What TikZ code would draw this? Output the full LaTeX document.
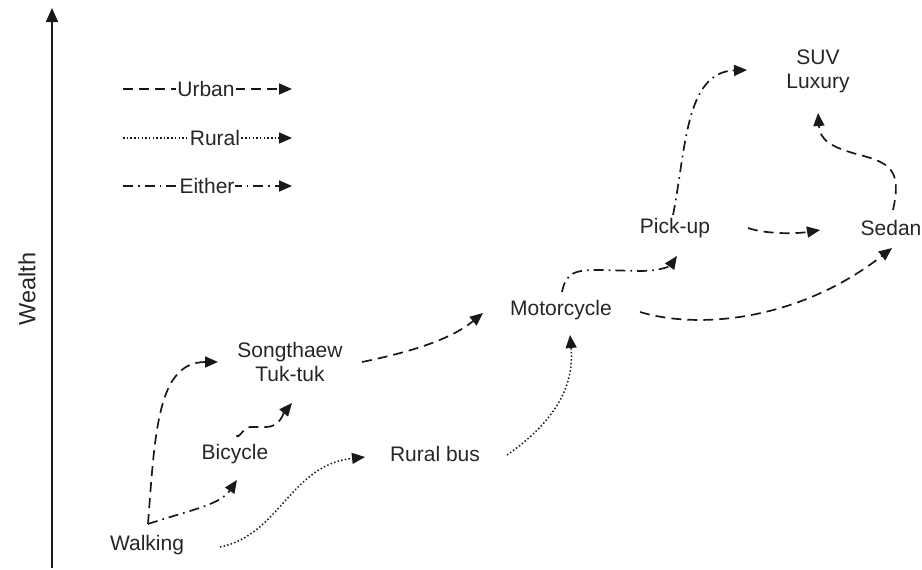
\documentclass[tikz,border=0pt]{standalone}
\usepackage{fontspec}
\setmainfont{Liberation Sans}
\usetikzlibrary{arrows.meta}
\begin{document}
\begin{tikzpicture}[x=1pt,y=-1pt,
  lbl/.style={font=\fontsize{21}{24}\selectfont, align=center, text=black!85, inner sep=1pt},
  conn/.style={line width=1.7pt, black!90, -{Triangle[length=13pt,width=11pt]}},
  urban/.style={conn, dash pattern=on 10pt off 6pt},
  rural/.style={conn, line width=1.5pt, dash pattern=on 1.5pt off 2.2pt},
  either/.style={conn, dash pattern=on 10pt off 5pt on 1.7pt off 5pt},
]
\useasboundingbox (0,0) rectangle (922,570);

% wealth axis
\coordinate (axisbot) at (52,568);
\coordinate (axistop) at (52,8);
\draw[line width=1.7pt, black!90, -{Triangle[length=14pt,width=12pt]}] (axisbot) -- (axistop);
\node[lbl, rotate=90, font=\fontsize{23.5}{26}\selectfont] (wealth) at (27,289) {Wealth};

% legend
\coordinate (u0) at (123,89);  \coordinate (u1) at (292,89);
\coordinate (r0) at (123,138); \coordinate (r1) at (292,138);
\coordinate (e0) at (123,186); \coordinate (e1) at (292,186);
\draw[urban]  (u0) -- (u1);
\draw[rural]  (r0) -- (r1);
\draw[either] (e0) -- (e1);
\node[lbl, fill=white] (lurban)  at (206,89)  {Urban};
\node[lbl, fill=white] (lrural)  at (215,138) {Rural};
\node[lbl, fill=white] (leither) at (207,186) {Either};

% modes of transport
\node[lbl] (walk)  at (147,545) {Walking};
\node[lbl] (bike)  at (235,454) {Bicycle};
\node[lbl] (song)  at (290,362) {Songthaew\\Tuk-tuk};
\node[lbl] (bus)   at (435,454) {Rural bus};
\node[lbl] (moto)  at (561,310) {Motorcycle};
\node[lbl] (pick)  at (675,228) {Pick-up};
\node[lbl] (sedan) at (891,228) {Sedan};
\node[lbl] (suv)   at (818,71)  {SUV\\Luxury};

% transitions
\draw[urban] ([shift={(1,-21)}]walk.center)
  .. controls (155,430) and (158,362) .. ([shift={(-72,0)}]song.center);
\draw[either] ([shift={(1,-21)}]walk.center)
  .. controls (190,510) and (220,505) .. ([shift={(2,26)}]bike.center);
\draw[urban] ([shift={(2,-19)}]bike.center)
  to[out=-90,in=180] (250,427) -- (266,427) to[out=0,in=-130] ([shift={(2,41)}]song.center);
\draw[rural] ([shift={(73,2)}]walk.center)
  .. controls (280,535) and (290,465) .. ([shift={(-70,3)}]bus.center);
\draw[urban] ([shift={(72,0)}]song.center)
  .. controls (410,352) and (450,340) .. ([shift={(-78,3)}]moto.center);
\draw[rural] ([shift={(72,1)}]bus.center)
  .. controls (550,425) and (575,390) .. ([shift={(9,25)}]moto.center);
\draw[either] ([shift={(1,-18)}]moto.center)
  .. controls (566,272) and (575,270) .. (600,270) -- (640,271)
  .. controls (660,271) and (670,266) .. ([shift={(2,28)}]pick.center);
\draw[urban] ([shift={(79,2)}]moto.center)
  .. controls (700,330) and (800,320) .. ([shift={(1,20)}]sedan.center);
\draw[urban] ([shift={(73,0)}]pick.center)
  .. controls (765,234) and (795,234) .. ([shift={(-71,2)}]sedan.center);
\draw[either] ([shift={(-2,-13)}]pick.center)
  .. controls (686,150) and (685,72) .. ([shift={(-71,-1)}]suv.center);
\draw[urban] ([shift={(2,-18)}]sedan.center)
  .. controls (902,170) and (890,163) .. (860,155)
  .. controls (830,147) and (820,140) .. ([shift={(0,42)}]suv.center);
\end{tikzpicture}
\end{document}
